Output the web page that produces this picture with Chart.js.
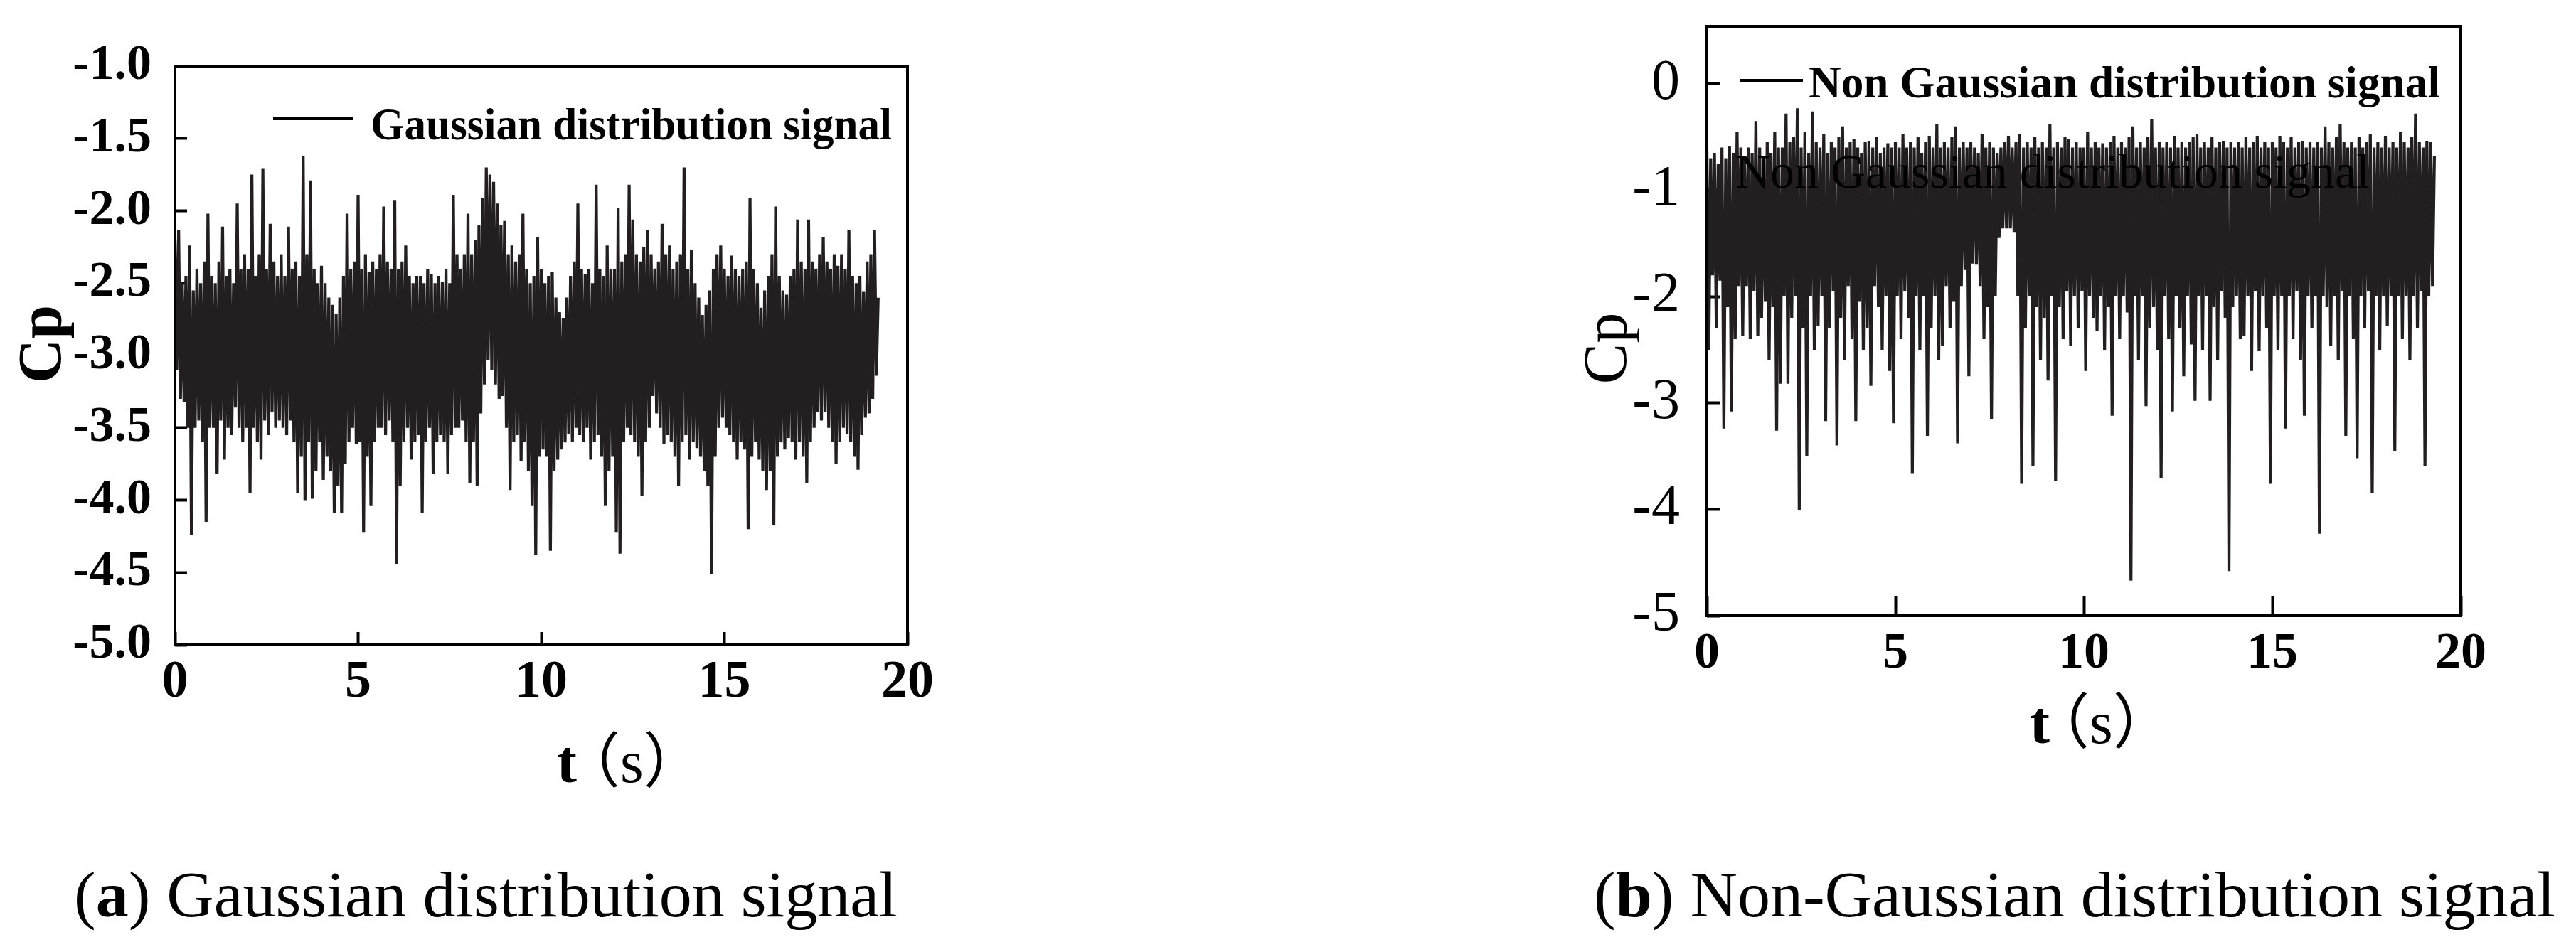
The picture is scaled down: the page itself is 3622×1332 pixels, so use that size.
<!DOCTYPE html>
<html>
<head>
<meta charset="utf-8">
<script src="https://cdn.jsdelivr.net/npm/chart.js@4.4.0/dist/chart.umd.min.js"></script>
<style>
  html, body { margin: 0; padding: 0; background: #fff; }
  body { width: 3622px; height: 1332px; position: relative; overflow: hidden; }
  canvas { position: absolute; }
  #chartA { left: 0; top: 0; }
  #chartB { left: 2150px; top: 0; }
  .caption {
    position: absolute; top: 1212px;
    font-family: 'Liberation Serif', 'Times New Roman', serif;
    font-size: 92px; line-height: 1; white-space: nowrap; color: #000;
  }
</style>
</head>
<body>
<canvas id="chartA" width="1340" height="1130"></canvas>
<canvas id="chartB" width="1400" height="1100"></canvas>
<div class="caption" style="left:104px">(<b>a</b>) Gaussian distribution signal</div>
<div class="caption" style="left:2241px">(<b>b</b>) Non-Gaussian distribution signal</div>
<script>
// sampling interval of the read-off series (s); values alternate peak / trough
const stepA = 0.05;
const stepB = 0.05;

// (a) Gaussian signal, Cp, one row per second
const cpA = [
  -2.2,-3.1, -2.13,-3.3, -2.5,-3.32, -2.45,-3.5, -2.24,-4.24, -2.55,-3.5, -2.4,-3.45, -2.5,-3.6, -2.35,-4.15, -2.02,-3.5,
  -2.45,-3.5, -2.5,-3.82, -2.35,-3.45, -2.11,-3.72, -2.45,-3.5, -2.4,-3.55, -2.5,-3.36, -1.95,-3.5, -2.4,-3.6, -2.3,-3.5,
  -2.4,-3.95, -1.75,-3.5, -2.45,-3.6, -2.3,-3.72, -1.71,-3.45, -2.4,-3.55, -2.09,-3.39, -2.35,-3.5, -2.45,-3.45, -2.3,-3.5,
  -2.45,-3.55, -2.11,-3.45, -2.4,-3.6, -2.35,-3.95, -2.45,-3.7, -1.62,-4.0, -2.3,-3.6, -1.79,-3.99, -2.4,-3.8, -2.5,-3.6,
  -2.38,-3.86, -2.5,-3.7, -2.6,-3.8, -2.65,-4.09, -2.71,-3.9, -2.6,-4.09, -2.45,-3.75, -2.02,-3.6, -2.4,-3.5, -2.35,-3.61,
  -1.89,-3.6, -2.4,-4.22, -2.3,-3.7, -2.42,-4.04, -2.35,-3.6, -2.4,-3.5, -2.3,-3.5, -1.97,-3.55, -2.35,-3.45, -2.4,-3.6,
  -1.93,-4.44, -2.4,-3.9, -2.35,-3.6, -2.24,-3.5, -2.45,-3.72, -2.5,-3.6, -2.45,-3.55, -2.45,-4.09, -2.5,-3.6, -2.4,-3.5,
  -2.44,-3.82, -2.5,-3.6, -2.45,-3.55, -2.49,-3.6, -2.4,-3.82, -2.5,-3.55, -1.89,-3.5, -2.3,-3.5, -2.4,-3.45, -2.3,-3.6,
  -2.02,-3.88, -2.3,-3.6, -2.2,-3.9, -2.1,-3.4, -1.91,-3.2, -1.7,-3.03, -1.75,-3.1, -1.8,-3.2, -1.95,-3.3, -2.1,-3.28,
  -2.07,-3.5, -2.3,-3.93, -2.24,-3.6, -2.35,-3.55, -2.3,-3.73, -2.02,-3.6, -2.4,-3.8, -2.5,-4.04, -2.45,-4.38, -2.18,-3.7,
  -2.4,-3.65, -2.5,-3.7, -2.45,-4.35, -2.42,-3.8, -2.6,-3.72, -2.7,-3.65, -2.74,-3.6, -2.6,-3.54, -2.45,-3.6, -2.35,-3.5,
  -1.95,-3.55, -2.4,-3.6, -2.44,-3.5, -2.4,-3.72, -2.5,-3.6, -1.82,-3.55, -2.4,-3.7, -2.45,-4.04, -2.24,-3.8, -2.4,-3.7,
  -2.4,-4.22, -1.98,-4.37, -2.35,-3.6, -2.3,-3.5, -1.82,-3.55, -2.06,-3.6, -2.3,-3.7, -2.35,-3.97, -2.25,-3.6, -2.13,-3.5,
  -2.3,-3.28, -2.4,-3.4, -2.35,-3.5, -2.09,-3.61, -2.3,-3.55, -2.24,-3.6, -2.4,-3.7, -2.35,-3.9, -2.3,-3.6, -1.7,-3.55,
  -2.4,-3.72, -2.27,-3.6, -2.5,-3.64, -2.6,-3.7, -2.72,-3.8, -2.65,-3.9, -2.55,-4.51, -2.4,-3.7, -2.3,-3.5, -2.24,-3.43,
  -2.4,-3.5, -2.45,-3.55, -2.31,-3.6, -2.4,-3.72, -2.45,-3.6, -2.4,-3.65, -2.35,-4.2, -1.91,-3.7, -2.4,-3.6, -2.5,-3.72,
  -2.67,-3.8, -2.55,-3.93, -2.45,-3.8, -2.3,-4.17, -1.97,-3.7, -2.45,-3.6, -2.55,-3.65, -2.58,-3.57, -2.45,-3.6, -2.4,-3.72,
  -2.06,-3.6, -2.35,-3.7, -2.4,-3.88, -2.06,-3.6, -2.35,-3.5, -2.4,-3.39, -2.3,-3.45, -2.18,-3.39, -2.35,-3.5, -2.4,-3.6,
  -2.3,-3.75, -2.38,-3.6, -2.3,-3.5, -2.4,-3.54, -2.13,-3.6, -2.45,-3.7, -2.5,-3.79, -2.45,-3.55, -2.56,-3.43, -2.35,-3.4,
  -2.3,-3.3, -2.13,-3.14, -2.6
];

// (b) Non-Gaussian signal, Cp, one row per second
const cpB = [
  -0.63,-2.5, -0.7,-1.8, -0.65,-2.3, -0.75,-1.85, -0.6,-3.24, -0.7,-2.1, -0.59,-3.08, -0.65,-2.4, -0.45,-1.9, -0.6,-2.37,
  -0.7,-1.9, -0.6,-2.4, -0.65,-1.95, -0.35,-2.37, -0.6,-2.2, -0.7,-2.05, -0.55,-2.6, -0.65,-2.1, -0.45,-3.26, -0.6,-2.82,
  -0.6,-2.0, -0.28,-2.82, -0.55,-2.2, -0.5,-2.0, -0.23,-4.01, -0.6,-2.3, -0.45,-3.5, -0.65,-2.0, -0.26,-2.5, -0.55,-2.28,
  -0.6,-2.0, -0.47,-3.17, -0.65,-2.3, -0.55,-1.95, -0.6,-3.4, -0.5,-2.2, -0.4,-2.6, -0.6,-1.9, -0.55,-2.4, -0.52,-3.17,
  -0.6,-2.05, -0.65,-2.5, -0.55,-2.3, -0.54,-2.84, -0.6,-1.9, -0.5,-2.1, -0.65,-2.5, -0.6,-2.0, -0.56,-2.7, -0.6,-3.19,
  -0.55,-2.0, -0.6,-2.4, -0.47,-1.95, -0.6,-2.2, -0.55,-3.66, -0.6,-2.0, -0.5,-2.5, -0.65,-2.0, -0.55,-3.31, -0.49,-2.3,
  -0.6,-2.0, -0.38,-2.6, -0.6,-2.46, -0.55,-1.9, -0.6,-2.3, -0.5,-2.05, -0.4,-3.38, -0.6,-1.9, -0.55,-1.75, -0.6,-2.75,
  -0.55,-1.69, -0.6,-1.7, -0.65,-1.9, -0.47,-2.4, -0.6,-2.1, -0.55,-3.15, -0.6,-2.0, -0.65,-1.45, -0.6,-1.36, -0.55,-1.36,
  -0.49,-1.36, -0.6,-1.4, -0.55,-2.0, -0.47,-3.76, -0.6,-2.3, -0.55,-2.0, -0.6,-3.59, -0.5,-2.1, -0.6,-2.6, -0.55,-2.2,
  -0.6,-2.79, -0.38,-2.0, -0.6,-3.73, -0.55,-2.1, -0.6,-2.4, -0.5,-1.95, -0.52,-2.46, -0.6,-2.0, -0.55,-2.3, -0.6,-1.95,
  -0.6,-2.7, -0.45,-2.0, -0.6,-2.2, -0.55,-2.32, -0.6,-2.0, -0.56,-2.5, -0.6,-2.1, -0.55,-3.12, -0.49,-2.0, -0.6,-2.4,
  -0.55,-2.0, -0.6,-2.15, -0.5,-4.67, -0.4,-2.0, -0.6,-2.6, -0.55,-2.0, -0.6,-3.03, -0.5,-2.3, -0.33,-2.1, -0.6,-2.5,
  -0.55,-3.71, -0.6,-2.0, -0.55,-2.4, -0.6,-3.08, -0.49,-2.0, -0.6,-2.3, -0.55,-2.75, -0.6,-2.0, -0.55,-2.45, -0.5,-2.98,
  -0.47,-2.0, -0.6,-2.5, -0.55,-2.0, -0.6,-2.98, -0.5,-2.1, -0.6,-2.6, -0.55,-1.95, -0.54,-2.2, -0.6,-4.58, -0.55,-2.1,
  -0.6,-2.0, -0.55,-2.4, -0.6,-2.37, -0.5,-2.0, -0.6,-2.7, -0.55,-1.95, -0.49,-2.51, -0.6,-2.0, -0.55,-2.3, -0.6,-3.76,
  -0.55,-2.0, -0.6,-2.5, -0.49,-2.0, -0.55,-3.24, -0.6,-2.0, -0.5,-2.4, -0.6,-1.95, -0.55,-2.6, -0.54,-3.12, -0.6,-2.0,
  -0.55,-2.3, -0.6,-2.0, -0.55,-4.23, -0.6,-2.0, -0.4,-2.1, -0.55,-2.46, -0.6,-2.0, -0.5,-2.6, -0.38,-1.95, -0.55,-3.31,
  -0.6,-2.0, -0.55,-2.4, -0.6,-3.52, -0.5,-2.0, -0.6,-2.3, -0.55,-1.95, -0.47,-3.85, -0.6,-2.0, -0.55,-2.5, -0.6,-2.0,
  -0.49,-2.28, -0.6,-2.0, -0.55,-3.45, -0.6,-2.0, -0.45,-2.4, -0.55,-2.0, -0.6,-2.6, -0.5,-2.0, -0.28,-2.3, -0.55,-1.95,
  -0.6,-3.59, -0.54,-2.0, -0.55,-1.9, -0.68
];

const xTicks = [0, 5, 10, 15, 20];
const xTickLabels = ['0', '5', '10', '15', '20'];
const yTicksA = [-5, -4.5, -4, -3.5, -3, -2.5, -2, -1.5, -1];
const yTickLabelsA = ['-5.0', '-4.5', '-4.0', '-3.5', '-3.0', '-2.5', '-2.0', '-1.5', '-1.0'];
const yTicksB = [-5, -4, -3, -2, -1, 0];
const yTickLabelsB = ['-5', '-4', '-3', '-2', '-1', '0'];

const legendA = 'Gaussian distribution signal';
const legendB = 'Non Gaussian distribution signal';

const serif = "'Liberation Serif', 'Times New Roman', serif";
const lineColor = '#231f20';

function toPoints(values, step) {
  return values.map((v, i) => ({ x: i * step, y: v }));
}

// box around the plot area, drawn over the signal
const frame = {
  id: 'frame',
  afterDatasetsDraw(chart) {
    const { ctx, chartArea: a } = chart;
    ctx.save();
    ctx.strokeStyle = '#000';
    ctx.lineWidth = 4;
    ctx.strokeRect(a.left, a.top, a.right - a.left, a.bottom - a.top);
    ctx.restore();
  }
};

function fitText(ctx, text, x, y, width) {
  const w = ctx.measureText(text).width;
  ctx.save();
  ctx.translate(x, y);
  ctx.scale(width / w, 1);
  ctx.fillText(text, 0, 0);
  ctx.restore();
}

// legend line, axis titles and stray label, placed like in the scan
function figText(cfg) {
  return {
    id: 'figText',
    afterDraw(chart) {
      const ctx = chart.ctx;
      ctx.save();
      ctx.fillStyle = '#000';
      ctx.strokeStyle = '#000';

      const lg = cfg.legend;
      ctx.lineWidth = 4;
      ctx.beginPath();
      ctx.moveTo(lg.x1, lg.y);
      ctx.lineTo(lg.x2, lg.y);
      ctx.stroke();
      ctx.font = lg.font;
      ctx.textBaseline = 'middle';
      ctx.textAlign = 'left';
      fitText(ctx, chart.data.datasets[0].label, lg.textX, lg.textY, lg.width);

      if (cfg.ghost) {
        ctx.font = cfg.ghost.font;
        fitText(ctx, cfg.ghost.text, cfg.ghost.x, cfg.ghost.y, cfg.ghost.width);
      }

      const xt = cfg.xTitle;
      ctx.textBaseline = 'alphabetic';
      ctx.font = xt.tFont;
      ctx.textAlign = 'center';
      ctx.fillText('t', xt.tX, xt.baseline);
      ctx.font = xt.parenFont;
      ctx.textAlign = 'left';
      ctx.fillText('（s）', xt.parenX, xt.baseline);

      const yt = cfg.yTitle;
      ctx.translate(0, yt.y);
      ctx.rotate(-Math.PI / 2);
      ctx.font = yt.font;
      ctx.textAlign = 'center';
      ctx.fillText('Cp', 0, yt.baseline);
      ctx.restore();
    }
  };
}

function makeChart(id, cfg) {
  return new Chart(document.getElementById(id), {
    type: 'line',
    data: {
      datasets: [{
        label: cfg.label,
        data: toPoints(cfg.values, cfg.step),
        borderColor: lineColor,
        borderWidth: 4.2,
        pointRadius: 0,
        tension: 0,
        fill: false
      }]
    },
    options: {
      responsive: false,
      animation: false,
      events: [],
      layout: { padding: { top: cfg.top, right: cfg.right, left: 0, bottom: 0 } },
      plugins: { legend: { display: false }, tooltip: { enabled: false } },
      scales: {
        x: {
          type: 'linear', min: 0, max: 20,
          afterBuildTicks: s => { s.ticks = xTicks.map(v => ({ value: v })); },
          afterFit: s => { s.height = cfg.xHeight; s.paddingLeft = 0; s.paddingRight = 0; },
          border: { display: false },
          grid: { drawOnChartArea: false, drawTicks: true, tickLength: -cfg.xTick, tickWidth: 4, tickColor: '#000' },
          ticks: {
            autoSkip: false, maxRotation: 0, padding: cfg.xPad, color: '#000',
            font: { family: serif, size: cfg.xSize, weight: 'bold' },
            callback: (v, i) => xTickLabels[i]
          }
        },
        y: {
          min: -5, max: cfg.yMax,
          afterBuildTicks: s => { s.ticks = cfg.yTicks.map(v => ({ value: v })); },
          afterFit: s => { s.width = cfg.yWidth; s.paddingTop = 0; s.paddingBottom = 0; },
          border: { display: false },
          grid: { drawOnChartArea: false, drawTicks: true, tickLength: -cfg.yTick, tickWidth: 4, tickColor: '#000' },
          ticks: {
            autoSkip: false, padding: cfg.yPad, color: '#000',
            font: { family: serif, size: cfg.ySize, weight: cfg.yWeight },
            callback: (v, i) => cfg.yLabels[i]
          }
        }
      }
    },
    plugins: [frame, figText(cfg.text)]
  });
}

makeChart('chartA', {
  label: legendA, values: cpA, step: stepA,
  top: 93, right: 64, xHeight: 223, yWidth: 246,
  xTick: 18, yTick: 17, xPad: 27, yPad: 50,
  xSize: 74, ySize: 70, yWeight: 'bold',
  yMax: -1, yTicks: yTicksA, yLabels: yTickLabelsA,
  text: {
    legend: { x1: 384, x2: 496, y: 167, textX: 521, textY: 180, width: 733, font: 'bold 63px ' + serif },
    xTitle: { tX: 797, parenX: 788, baseline: 1100, tFont: 'bold 84px ' + serif, parenFont: '84px ' + serif + ", 'Noto Sans CJK SC'" },
    yTitle: { y: 484, baseline: 85, font: 'bold 86px ' + serif }
  }
});

makeChart('chartB', {
  label: legendB, values: cpB, step: stepB,
  top: 37, right: 90, xHeight: 234, yWidth: 250,
  xTick: 27, yTick: 18, xPad: 38, yPad: 56,
  xSize: 72, ySize: 80, yWeight: 'normal',
  yMax: 0.54, yTicks: yTicksB, yLabels: yTickLabelsB,
  text: {
    legend: { x1: 296, x2: 385, y: 113, textX: 393, textY: 120, width: 888, font: 'bold 64px ' + serif },
    ghost: { text: legendB, x: 290, y: 246, width: 892, font: '68px ' + serif },
    xTitle: { tX: 718, parenX: 704, baseline: 1045, tFont: 'bold 84px ' + serif, parenFont: '84px ' + serif + ", 'Noto Sans CJK SC'" },
    yTitle: { y: 490, baseline: 136, font: '86px ' + serif }
  }
});
</script>
</body>
</html>
